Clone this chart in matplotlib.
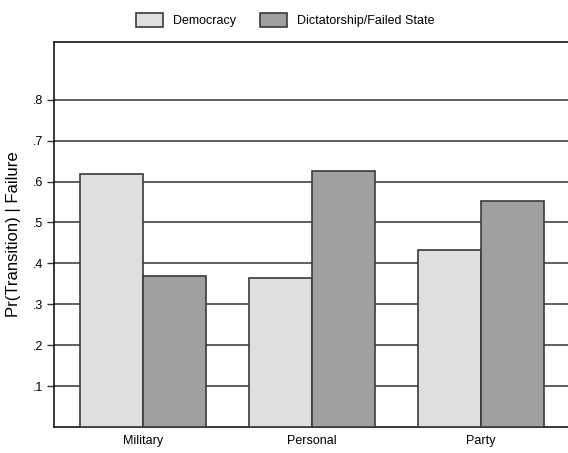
import numpy as np
import matplotlib.pyplot as plt

plt.rcParams['font.family'] = ['Liberation Sans', 'DejaVu Sans']

categories = ['Military', 'Personal', 'Party']
democracy = [0.619, 0.364, 0.433]
dictatorship = [0.369, 0.626, 0.553]
yticks = [0.1, 0.2, 0.3, 0.4, 0.5, 0.6, 0.7, 0.8]
ytick_labels = ['.1', '.2', '.3', '.4', '.5', '.6', '.7', '.8']

fig = plt.figure(figsize=(5.68, 4.53), dpi=100)
ax = fig.add_axes([54/568, 26/453, 1 - 54/568, (427-42)/453])

x = np.arange(len(categories))
w = 0.375
ax.bar(x - w/2, democracy, w, color='#dfdfdf', edgecolor='#3a3a3a', linewidth=1.2,
       label='Democracy', zorder=3)
ax.bar(x + w/2, dictatorship, w, color='#a0a0a0', edgecolor='#3a3a3a', linewidth=1.2,
       label='Dictatorship/Failed State', zorder=3)

ax.set_xlim(-0.527, 2.515)
ax.set_ylim(0, 0.941)
ax.set_yticks(yticks)
ax.set_yticklabels(ytick_labels, fontsize=9)
ax.yaxis.grid(True, color='#333333', linewidth=1.1, zorder=0)
ax.tick_params(axis='y', length=5, width=1, color='#333333', pad=3)
ax.set_xticks(x)
ax.set_xticklabels(categories, fontsize=9)
ax.tick_params(axis='x', length=0, pad=6)
ax.set_ylabel('Pr(Transition) | Failure', fontsize=12, labelpad=8)

ax.spines['right'].set_visible(False)
for s in ['left', 'top', 'bottom']:
    ax.spines[s].set_color('black')
    ax.spines[s].set_linewidth(1.1)

fig.legend(loc='center', bbox_to_anchor=(0.502, 1 - 20/453), ncol=2, frameon=False,
           fontsize=9, handlelength=2.2, handleheight=1.3, columnspacing=1.9,
           handletextpad=0.8)

fig.savefig('out.png', dpi=100)
